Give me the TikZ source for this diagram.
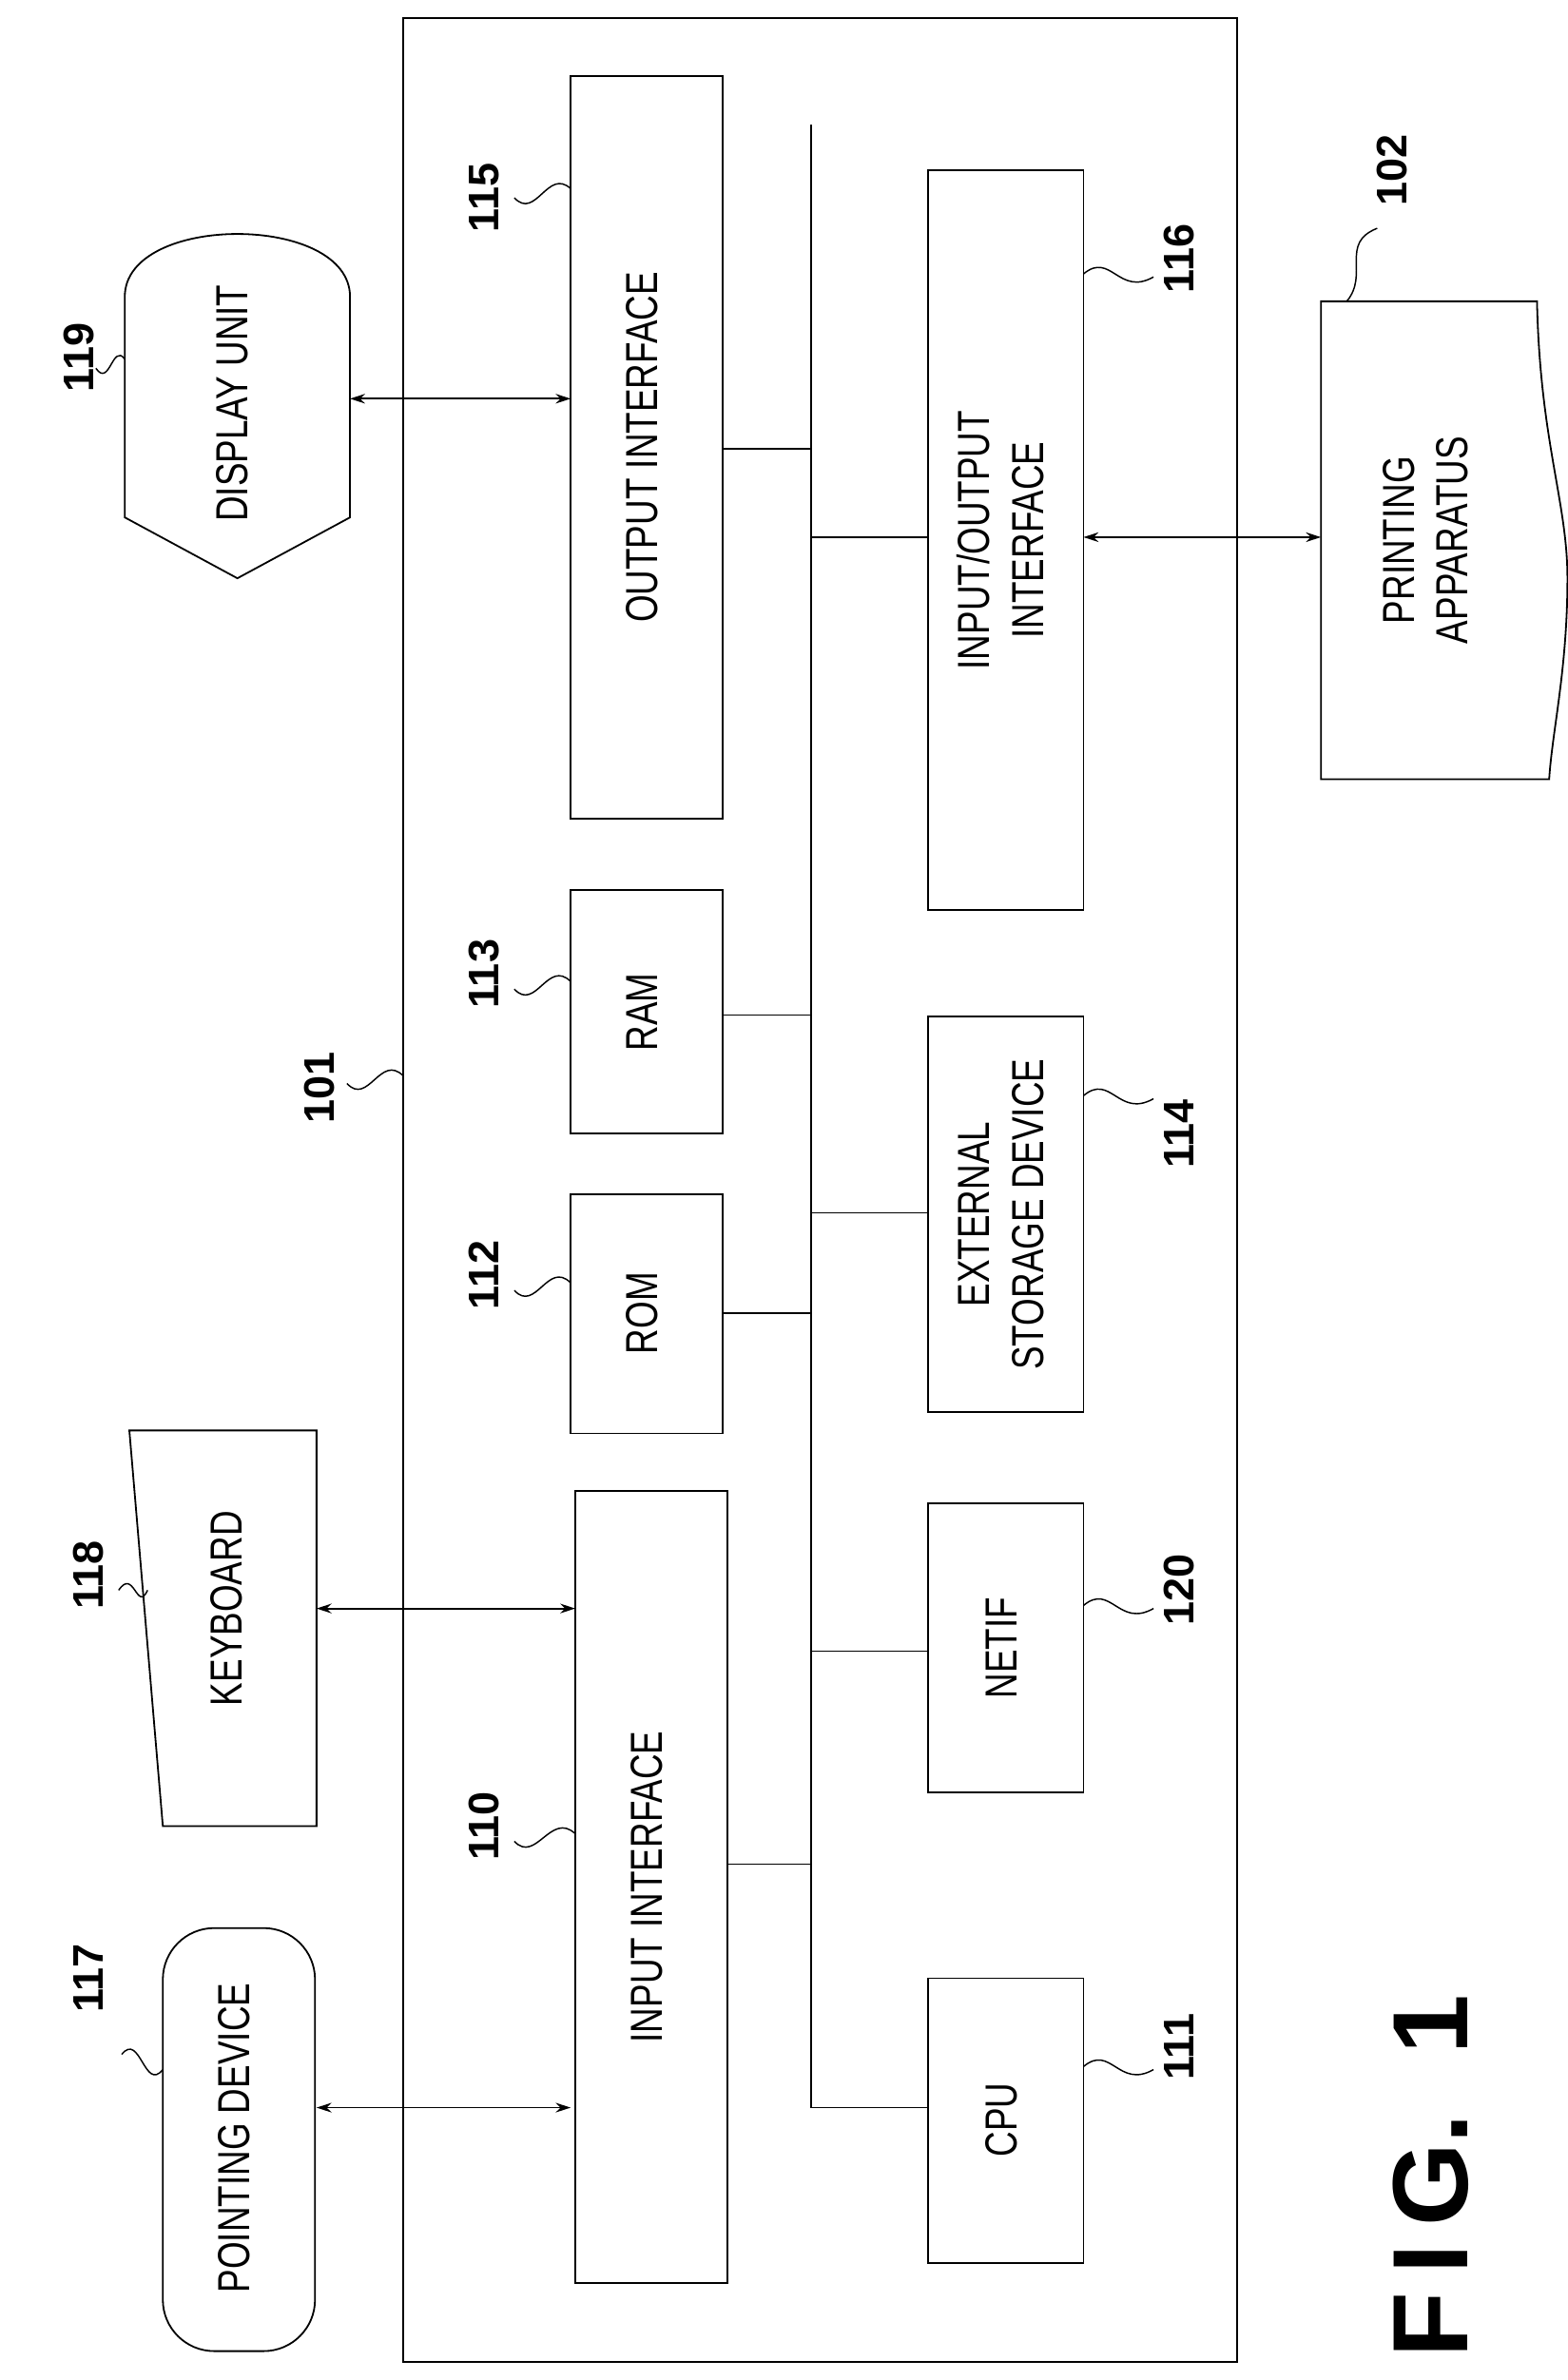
\documentclass[tikz,border=0pt]{standalone}
\usepackage{fontspec}
\usetikzlibrary{arrows.meta}
\setmainfont{Liberation Sans}
\newcommand{\T}[1]{\scalebox{0.78}[1]{\begin{tabular}{@{}c@{}}#1\end{tabular}}}
\begin{document}
\begin{tikzpicture}[x=0.5mm,y=-0.5mm,line width=1.6pt,
  box/.style={draw,rectangle},
  txt/.style={rotate=90,font=\fontsize{42}{50}\selectfont,inner sep=0pt},
  num/.style={rotate=90,font=\fontsize{40}{44}\selectfont\bfseries,inner sep=0pt},
  lead/.style={line width=1.3pt},
  arr/.style={<->,>={Stealth[length=14pt,width=9pt]}}]
\useasboundingbox (0,0) rectangle (1030,1564);
% outer box
\draw (265,12) rectangle (813,1552);
\coordinate (bt) at (533,82); \coordinate (bb) at (533,1385);
\draw (bt) -- (bb);
% left column boxes
\draw (375,50) rectangle (475,538);
\node[txt] (o115) at (425,294) {\T{OUTPUT INTERFACE}};
\draw (375,585) rectangle (475,745);
\node[txt] (o113) at (425,665) {\T{RAM}};
\draw (375,785) rectangle (475,942);
\node[txt] (o112) at (425,863) {\T{ROM}};
\draw (378,980) rectangle (478,1500);
\node[txt] (o110) at (428,1240) {\T{INPUT INTERFACE}};
% right column boxes
\draw (610,112) rectangle (712,598);
\node[txt] (o116) at (661,355) {\T{INPUT/OUTPUT\\INTERFACE}};
\draw (610,668) rectangle (712,928);
\node[txt] (o114) at (661,798) {\T{EXTERNAL\\STORAGE DEVICE}};
\draw (610,988) rectangle (712,1178);
\node[txt] (o120) at (661,1083) {\T{NETIF}};
\draw (610,1300) rectangle (712,1487);
\node[txt] (o111) at (661,1393) {\T{CPU}};
% bus connections
\draw (475,295) -- (533,295);
\draw (475,667) -- (533,667);
\draw (475,863) -- (533,863);
\draw (478,1225) -- (533,1225);
\draw (533,353) -- (610,353);
\draw (533,797) -- (610,797);
\draw (533,1085) -- (610,1085);
\draw (533,1385) -- (610,1385);
% pointing device
\draw[rounded corners=48pt] (107,1267) rectangle (207,1545);
\node[txt] (o117) at (157,1405) {\T{POINTING DEVICE}};
% keyboard
\draw (85,940) -- (208,940) -- (208,1200) -- (107,1200) -- cycle;
\node[txt] (o118) at (152,1057) {\T{KEYBOARD}};
% display unit
\draw (82,340) -- (82,195) .. controls (82,140) and (230,140) .. (230,195) -- (230,340) -- (156,380) -- cycle;
\node[txt] (o119) at (156,265) {\T{DISPLAY UNIT}};
% printing apparatus
\draw (868,198) -- (1010,198) .. controls (1012,290) and (1030,330) .. (1030,380) .. controls (1030,440) and (1020,480) .. (1018,512) -- (868,512) -- cycle;
\node[txt] (o102) at (940,355) {\T{PRINTING\\APPARATUS}};
% arrows
\draw[arr] (208,1385) -- (375,1385);
\draw[arr] (208,1057) -- (378,1057);
\draw[arr] (230,262) -- (375,262);
\draw[arr] (712,353) -- (868,353);
% labels
\node[num] (n117) at (58,1300) {117};
\draw[lead] (80,1350) .. controls (92,1335) and (95,1375) .. (107,1360);
\node[num] (n118) at (58,1035) {118};
\draw[lead] (78,1045) .. controls (88,1030) and (90,1060) .. (97,1045);
\node[num] (n119) at (52,235) {119};
\draw[lead] (63,242) .. controls (72,255) and (74,225) .. (82,236);
\node[num] (n115) at (318,130) {115};
\draw[lead] (338,130) .. controls (352,145) and (360,110) .. (375,124);
\node[num] (n113) at (318,640) {113};
\draw[lead] (338,650) .. controls (352,665) and (360,630) .. (375,645);
\node[num] (n112) at (318,838) {112};
\draw[lead] (338,848) .. controls (352,863) and (360,828) .. (375,843);
\node[num] (n110) at (318,1200) {110};
\draw[lead] (338,1210) .. controls (352,1225) and (362,1190) .. (378,1205);
\node[num] (n101) at (210,715) {101};
\draw[lead] (228,712) .. controls (242,727) and (250,692) .. (265,707);
\node[num] (n116) at (775,170) {116};
\draw[lead] (712,180) .. controls (730,165) and (735,195) .. (758,182);
\node[num] (n114) at (775,745) {114};
\draw[lead] (712,720) .. controls (730,705) and (735,735) .. (758,722);
\node[num] (n120) at (775,1045) {120};
\draw[lead] (712,1055) .. controls (730,1040) and (735,1070) .. (758,1057);
\node[num] (n111) at (775,1345) {111};
\draw[lead] (712,1358) .. controls (730,1343) and (735,1373) .. (758,1360);
\node[num] (n102) at (915,112) {102};
\draw[lead] (905,150) .. controls (880,160) and (900,180) .. (885,198);
\node[rotate=90,font=\fontsize{100}{110}\selectfont\bfseries,inner sep=0pt] (fig) at (940,1430) {F\,I\,G.\ \ 1};
\end{tikzpicture}
\end{document}
